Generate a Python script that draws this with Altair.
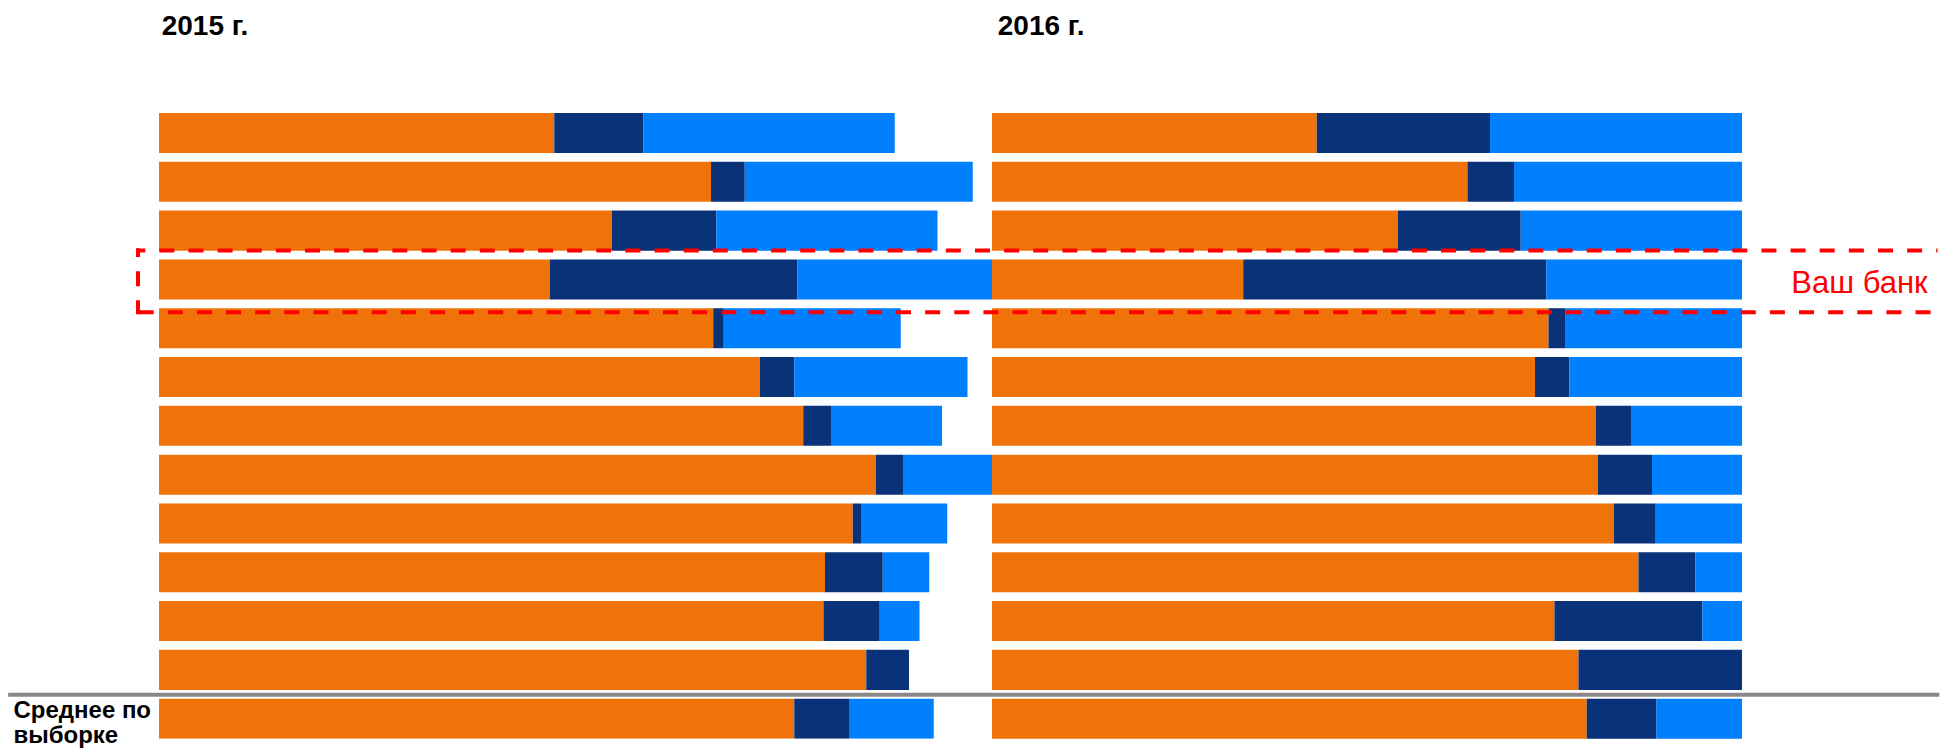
import altair as alt
import pandas as pd

# ---- data ----
rows = ["Банк 1", "Банк 2", "Банк 3", "Ваш банк", "Банк 5", "Банк 6", "Банк 7",
        "Банк 8", "Банк 9", "Банк 10", "Банк 11", "Банк 12", "Среднее по выборке"]
segments = ["Составляющая 1", "Составляющая 2", "Составляющая 3"]
colors = ["#F0730A", "#0A3278", "#007FFF"]
years = ["2015 г.", "2016 г."]
avg_label = ["Среднее по", "выборке"]
highlight_label = ["Ваш банк"]

orange_2015 = [52.7, 73.6, 60.4, 52.1, 73.9, 80.1, 85.9, 95.6, 92.5, 88.8, 88.6, 94.3, 84.7]
navy_2015 = [11.9, 4.5, 13.9, 33.0, 1.4, 4.6, 3.7, 3.6, 1.1, 7.7, 7.5, 5.7, 7.3]
blue_2015 = [33.5, 30.4, 29.5, 26.0, 23.6, 23.1, 14.8, 11.9, 11.5, 6.2, 5.3, 0.0, 11.3]

orange_2016 = [43.3, 63.4, 54.1, 33.5, 74.2, 72.4, 80.5, 80.8, 82.9, 86.2, 75.0, 78.2, 79.3]
navy_2016 = [23.1, 6.2, 16.4, 40.4, 2.2, 4.6, 4.7, 7.2, 5.6, 7.6, 19.7, 21.8, 9.3]
blue_2016 = [33.6, 30.4, 29.5, 26.1, 23.6, 23.0, 14.8, 12.0, 11.5, 6.2, 5.3, 0.0, 11.4]


def long_df(series):
    recs = []
    for si, (seg, vals) in enumerate(zip(segments, series)):
        for r, v in zip(rows, vals):
            recs.append({"row": r, "segment": seg, "order": si, "value": v})
    return pd.DataFrame(recs)


df15 = long_df([orange_2015, navy_2015, blue_2015])
df16 = long_df([orange_2016, navy_2016, blue_2016])

W_L, W_R, H = 833, 750, 625.7
PX_PER_UNIT = 7.5

y_enc = alt.Y("row:N", sort=rows, axis=None,
              scale=alt.Scale(paddingInner=0.18, paddingOuter=0))
color_enc = alt.Color("segment:N", legend=None,
                      scale=alt.Scale(domain=segments, range=colors))


def bars(df, maxv, clip):
    return alt.Chart(df).mark_bar(clip=clip).encode(
        x=alt.X("value:Q", stack="zero", axis=None,
                scale=alt.Scale(domain=[0, maxv], nice=False, zero=True)),
        y=y_enc,
        color=color_enc,
        order=alt.Order("order:Q"),
    )


one = pd.DataFrame({"a": [0]})

# ---- left panel (2015) ----
anchor = alt.Chart(one).mark_rect(color="white").encode(
    x=alt.value(-150.9), x2=alt.value(-149), y=alt.value(-104.9), y2=alt.value(-104))

gray_line = alt.Chart(one).mark_rect(color="#888888").encode(
    x=alt.value(-150.9), x2=alt.value(1780.3), y=alt.value(579.8), y2=alt.value(583.8))

label_style = dict(align="left", baseline="alphabetic", font="Liberation Sans",
                   fontWeight="bold", fontSize=24, color="black")
avg1 = alt.Chart(pd.DataFrame({"t": [avg_label[0]]})).mark_text(**label_style).encode(
    x=alt.value(-145.5), y=alt.value(605.5), text="t:N")
avg2 = alt.Chart(pd.DataFrame({"t": [avg_label[1]]})).mark_text(**label_style).encode(
    x=alt.value(-145.5), y=alt.value(630.5), text="t:N")

title_style = dict(align="left", baseline="alphabetic", font="Liberation Sans",
                   fontWeight="bold", fontSize=28, color="black")
title15 = alt.Chart(pd.DataFrame({"t": [years[0]]})).mark_text(**title_style).encode(
    x=alt.value(2.7), y=alt.value(-78), text="t:N")

left = alt.layer(anchor, bars(df15, W_L / PX_PER_UNIT, True), gray_line, avg1, avg2,
                 title15).properties(width=W_L, height=H)

# ---- right panel (2016) ----
dash = [15, 14.13]
red_top = alt.Chart(one).mark_rule(color="#FF0000", strokeWidth=4, strokeDash=dash,
                                   strokeDashOffset=6.5).encode(
    x=alt.value(-855.3), x2=alt.value(945.6), y=alt.value(137.4))
red_bottom = alt.Chart(one).mark_rule(color="#FF0000", strokeWidth=4, strokeDash=dash,
                                      strokeDashOffset=27.2).encode(
    x=alt.value(-855.3), x2=alt.value(945.6), y=alt.value(199.3))
red_left = alt.Chart(one).mark_rule(color="#FF0000", strokeWidth=4, strokeDash=dash,
                                    strokeDashOffset=6.3).encode(
    x=alt.value(-854), y=alt.value(135.3), y2=alt.value(201.3))

hl_text = alt.Chart(pd.DataFrame({"t": highlight_label})).mark_text(
    align="left", baseline="alphabetic", font="Liberation Sans", fontSize=31,
    color="#FF0000").encode(x=alt.value(799.3), y=alt.value(180.3), text="t:N")

title16 = alt.Chart(pd.DataFrame({"t": [years[1]]})).mark_text(**title_style).encode(
    x=alt.value(5.8), y=alt.value(-78), text="t:N")

right = alt.layer(bars(df16, 100, False), red_top, red_bottom, red_left, hl_text,
                  title16).properties(width=W_R, height=H)

chart = alt.hconcat(left, right, spacing=0, bounds="flush").properties(
    padding=0, background="white"
).configure_view(stroke=None)

chart.save("out.html", embed_options={"renderer": "svg", "actions": False})
